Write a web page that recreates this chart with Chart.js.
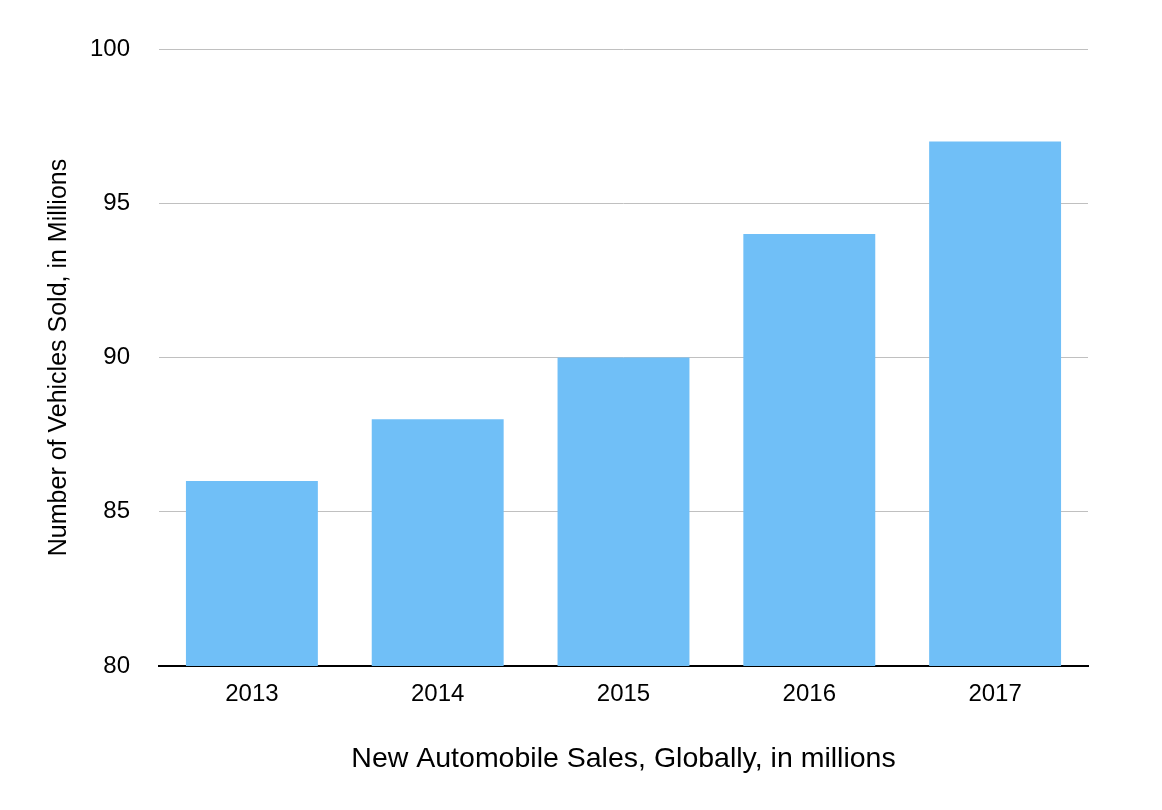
<!DOCTYPE html>
<html>
<head>
<meta charset="utf-8">
<script src="https://cdn.jsdelivr.net/npm/chart.js@4/dist/chart.umd.min.js"></script>
<style>
  html, body { margin: 0; padding: 0; background: #fff; }
  #wrap { width: 1162px; height: 810px; }
</style>
</head>
<body>
<div id="wrap"><canvas id="chartCanva"></canvas></div>
<script>
    var years = ['2013', '2014', '2015', '2016', '2017'];
    var sales = [86, 88, 90, 94, 97];
    var yTicks = [80, 85, 90, 95, 100];

    var fontFamily = '"Liberation Sans", Arial, Helvetica, sans-serif';

    const data = {
        labels: years,
        datasets: [{
            label: 'Sales',
            backgroundColor: '#70bff7',
            borderWidth: 0,
            data: sales,
            barPercentage: 0.71,
            categoryPercentage: 1.0
        }]
    };

    const config = {
        type: 'bar',
        data: data,
        options: {
            responsive: false,
            animation: false,
            devicePixelRatio: 1,
            layout: {
                padding: { top: 49, right: 74, bottom: 0, left: 0 }
            },
            plugins: {
                legend: { display: false },
                tooltip: { enabled: false },
                title: { display: false }
            },
            scales: {
                x: {
                    afterFit: function (scale) { scale.height = 144; },
                    grid: { display: false, drawTicks: false },
                    border: { display: true, color: '#000', width: 2 },
                    ticks: {
                        color: '#000',
                        padding: 14,
                        font: { family: fontFamily, size: 24 }
                    },
                    title: {
                        display: true,
                        text: 'New Automobile Sales, Globally, in millions',
                        color: '#000',
                        padding: { top: 0, bottom: 34 },
                        font: { family: fontFamily, size: 28.5 }
                    }
                },
                y: {
                    min: 80,
                    max: 100,
                    afterFit: function (scale) { scale.width = 159; },
                    afterBuildTicks: function (scale) {
                        scale.ticks = yTicks.map(function (v) { return { value: v }; });
                    },
                    grid: { color: '#c0c0c0', lineWidth: 1, drawTicks: false },
                    border: { display: false },
                    ticks: {
                        color: '#000',
                        padding: 29,
                        font: { family: fontFamily, size: 24 }
                    },
                    title: {
                        display: true,
                        text: 'Number of Vehicles Sold, in Millions',
                        color: '#000',
                        padding: { top: 44, bottom: 0 },
                        font: { family: fontFamily, size: 25 }
                    }
                }
            }
        }
    };

    var ctx = document.getElementById('chartCanva');
    ctx.width = 1162;
    ctx.height = 810;
    var myChart = new Chart(ctx, config);
</script>
</body>
</html>
